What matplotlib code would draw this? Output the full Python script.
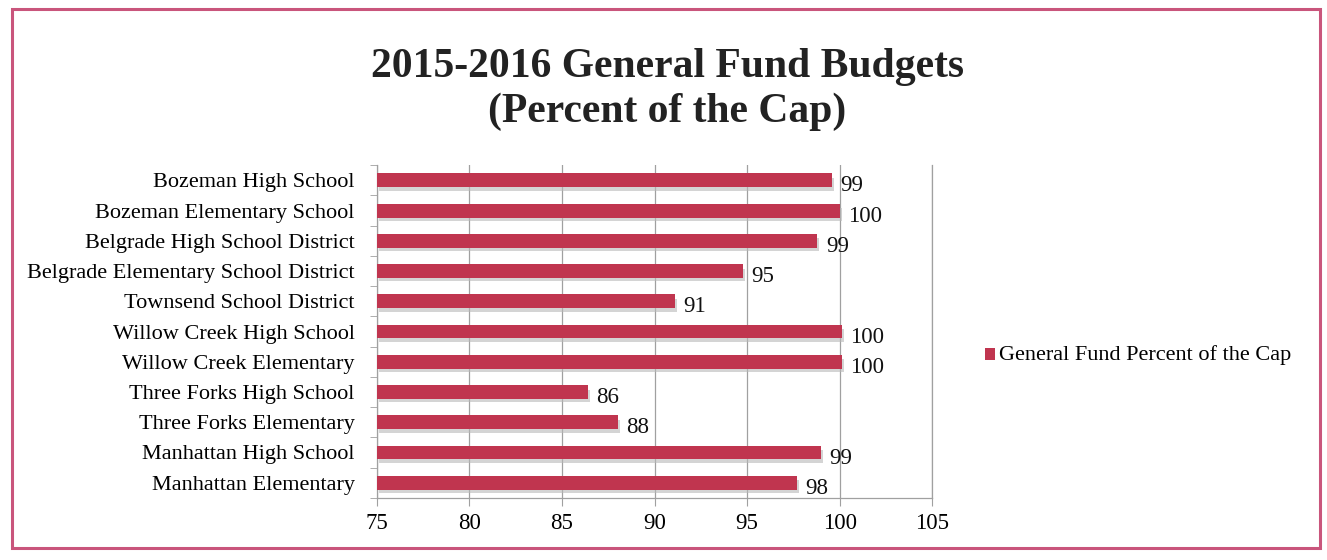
import matplotlib.pyplot as plt
import matplotlib.transforms as mtransforms
from matplotlib.patches import Rectangle
import numpy as np

# data
schools = ['Bozeman High School', 'Bozeman Elementary School', 'Belgrade High School District',
           'Belgrade Elementary School District', 'Townsend School District', 'Willow Creek High School',
           'Willow Creek Elementary', 'Three Forks High School', 'Three Forks Elementary',
           'Manhattan High School', 'Manhattan Elementary']
pct_of_cap = [99.6, 100.0, 98.8, 94.8, 91.1, 100.1, 100.1, 86.4, 88.0, 99.0, 97.7]
bar_labels = ['99', '100', '99', '95', '91', '100', '100', '86', '88', '99', '98']
x_ticks = [75, 80, 85, 90, 95, 100, 105]

plt.rcParams['font.family'] = ['Liberation Serif', 'DejaVu Serif']

bar_color = '#c0354f'
grid_color = '#a0a0a0'

fig = plt.figure(figsize=(13.27, 5.6), dpi=100)
fig.set_facecolor('white')

# chart border
fig.patches.append(Rectangle((0.009, 0.022), 0.986, 0.962, transform=fig.transFigure,
                             fill=False, edgecolor='#c9557c', linewidth=2.2))

ax = fig.add_axes([0.284, 0.111, 0.4185, 0.594])
y = np.arange(len(schools))

# soft shadow under bars
shadow = mtransforms.offset_copy(ax.transData, fig=fig, x=2, y=-4, units='dots')
ax.barh(y, [v - 75 for v in pct_of_cap], left=75, height=0.42, color='#b8b8b8',
        alpha=0.6, transform=shadow, zorder=2)
ax.barh(y, [v - 75 for v in pct_of_cap], left=75, height=0.46, color=bar_color, zorder=3)

for i, (v, lab) in enumerate(zip(pct_of_cap, bar_labels)):
    ax.annotate(lab, (v, i), xytext=(6, -4), textcoords='offset points',
                ha='left', va='center', fontsize=16.5, color='#111111', zorder=4)

ax.set_xlim(75, 105)
ax.set_ylim(len(schools) - 0.5, -0.5)
ax.set_xticks(x_ticks)
ax.set_xticklabels([str(t) for t in x_ticks], fontsize=16.5)
ax.set_yticks(y)
ax.set_yticklabels(schools, fontsize=16)
ax.tick_params(axis='y', which='major', length=0, pad=16)
ax.set_yticks(np.arange(-0.5, len(schools), 1), minor=True)
ax.tick_params(axis='y', which='minor', length=5, color=grid_color)
ax.tick_params(axis='x', length=6, color=grid_color, pad=5)

ax.xaxis.grid(True, color=grid_color, linewidth=0.9)
ax.set_axisbelow(True)
ax.spines['top'].set_visible(False)
for s in ['left', 'bottom', 'right']:
    ax.spines[s].set_color(grid_color)
    ax.spines[s].set_linewidth(0.9)

# title
fig.text(0.503, 0.84, '2015-2016 General Fund Budgets\n(Percent of the Cap)', ha='center', va='center',
         fontsize=30, fontweight='bold', color='#222222', linespacing=1.2)

# legend
fig.patches.append(Rectangle((0.742, 0.357), 0.0075, 0.022, transform=fig.transFigure,
                             facecolor=bar_color, edgecolor='none'))
fig.text(0.753, 0.366, 'General Fund Percent of the Cap', ha='left', va='center', fontsize=16)

fig.savefig('out.png', dpi=100, facecolor=fig.get_facecolor())
